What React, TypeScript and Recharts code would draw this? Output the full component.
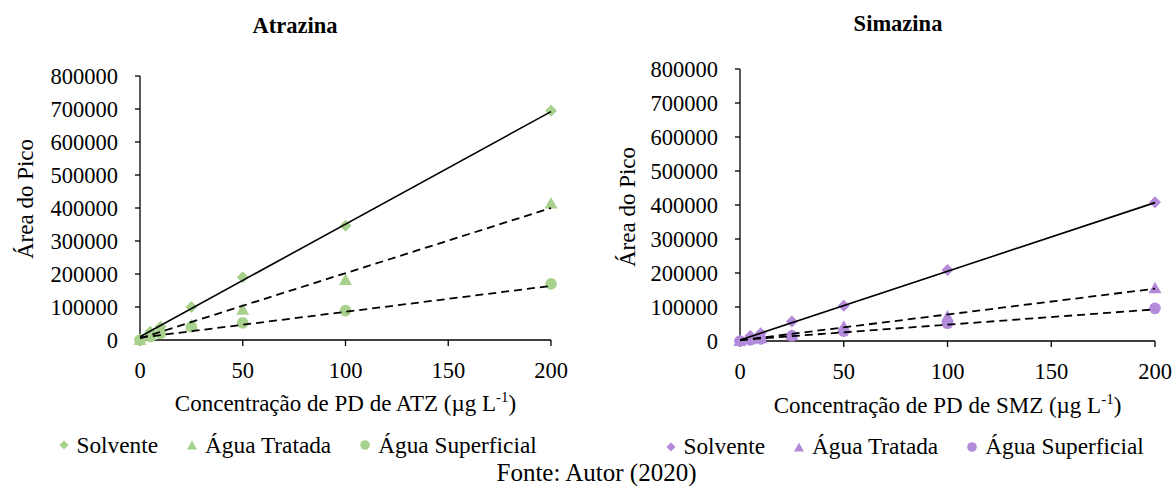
import { ScatterChart, Scatter, XAxis, YAxis } from 'recharts'

const FONT = '"Liberation Serif", "Times New Roman", serif'
const GREEN = '#A9D18E'
const PURPLE = '#B48ADA'

// concentrações (µg L-1)
const concentracoes = [0, 5, 10, 25, 50, 100, 200]
const xTicks = [0, 50, 100, 150, 200]
const yTicks = [0, 100000, 200000, 300000, 400000, 500000, 600000, 700000, 800000]
const trendX = [0, 200]
const seriesNames = ['Solvente', 'Água Tratada', 'Água Superficial']

// Atrazina
const atzSolvente = [0, 25000, 40000, 100000, 190000, 346000, 695000]
const atzTratada = [0, 15000, 30000, 45000, 92000, 182000, 414000]
const atzSuperficial = [0, 10000, 20000, 40000, 52000, 89000, 170000]
const atzTrendSolvente = [10000, 692000]
const atzTrendTratada = [5000, 400000]
const atzTrendSuperficial = [7000, 164000]

// Simazina
const smzSolvente = [0, 15000, 23000, 57000, 104000, 209000, 408000]
const smzTratada = [0, 5000, 8000, 17000, 42000, 72000, 155000]
const smzSuperficial = [0, 3000, 6000, 15000, 29000, 52000, 96000]
const smzTrendSolvente = [3000, 407000]
const smzTrendTratada = [2000, 154000]
const smzTrendSuperficial = [3000, 93000]

const toPoints = (ys: number[], xs: number[] = concentracoes) => xs.map((x, i) => ({ x, y: ys[i] }))

const Diamond = ({ cx, cy, fill }: any) => (
  <polygon points={`${cx},${cy - 6} ${cx + 6},${cy} ${cx},${cy + 6} ${cx - 6},${cy}`} fill={fill} />
)
const Triangle = ({ cx, cy, fill }: any) => (
  <polygon points={`${cx},${cy - 6.5} ${cx + 6.5},${cy + 5} ${cx - 6.5},${cy + 5}`} fill={fill} />
)
const Dot = ({ cx, cy, fill }: any) => <circle cx={cx} cy={cy} r={5.8} fill={fill} />
const Nothing = () => <g />

const shapes = [Diamond, Triangle, Dot]

const axisText = { fill: '#000', fontSize: 22.5, fontFamily: FONT }

const xTitle = (sigla: string, dy: number) => ({ viewBox }: any) => (
  <text x={viewBox.x + viewBox.width / 2} y={viewBox.y + dy} textAnchor="middle" fontSize={23} fontFamily={FONT} fill="#000">
    Concentração de PD de {sigla} (µg L<tspan dy={-9} fontSize={15}>-1</tspan><tspan dy={9}>)</tspan>
  </text>
)

const yTitle = (cxOff: number, cyOff: number) => ({ viewBox }: any) => {
  const cx = viewBox.x + cxOff
  const cy = viewBox.y + viewBox.height / 2 + cyOff
  return (
    <text x={cx} y={cy} dy="0.33em" transform={`rotate(-90 ${cx} ${cy})`} textAnchor="middle" fontSize={23} fontFamily={FONT} fill="#000">
      Área do Pico
    </text>
  )
}

function Painel({ width, margin, color, points, trends, sigla, xTitleDy, yTitleX, yTitleDy }: {
  width: number; margin: { top: number; right: number; bottom: number; left: number }; color: string
  points: number[][]; trends: number[][]; sigla: string; xTitleDy: number; yTitleX: number; yTitleDy: number
}) {
  return (
    <ScatterChart width={width} height={430} margin={margin}>
      <XAxis type="number" dataKey="x" domain={[0, 200]} ticks={xTicks} interval={0}
        axisLine={{ stroke: '#000', strokeWidth: 1.3 }} tickLine={{ stroke: '#000', strokeWidth: 1.3 }}
        tickSize={6} tickMargin={16} tick={axisText} height={80} label={{ content: xTitle(sigla, xTitleDy) }} />
      <YAxis type="number" dataKey="y" domain={[0, 800000]} ticks={yTicks} interval={0}
        axisLine={{ stroke: '#000', strokeWidth: 1.3 }} tickLine={{ stroke: '#000', strokeWidth: 1.3 }}
        tickSize={5} tickMargin={17} tick={axisText} width={140} label={{ content: yTitle(yTitleX, yTitleDy) }} />
      {points.map((ys, i) => (
        <Scatter key={seriesNames[i]} name={seriesNames[i]} data={toPoints(ys)} fill={color}
          shape={shapes[i]} isAnimationActive={false} />
      ))}
      {trends.map((ys, i) => (
        <Scatter key={'t' + i} data={toPoints(ys, trendX)} legendType="none" shape={Nothing}
          line={{ stroke: '#000', strokeWidth: i === 0 ? 1.6 : 1.8, strokeDasharray: i === 0 ? undefined : '8 5' }}
          isAnimationActive={false} />
      ))}
    </ScatterChart>
  )
}

const legendIcons = [
  (c: string) => <svg width={10} height={10}><polygon points="5,0.5 9.5,5 5,9.5 0.5,5" fill={c} /></svg>,
  (c: string) => <svg width={10} height={10}><polygon points="5,0.5 10,9.5 0,9.5" fill={c} /></svg>,
  (c: string) => <svg width={10} height={10}><circle cx={5} cy={5} r={4.8} fill={c} /></svg>,
]

function Legenda({ color, left, top }: { color: string; left: number; top: number }) {
  return (
    <div style={{ position: 'absolute', left, top, display: 'flex', gap: 29, fontFamily: FONT, fontSize: 23.3, lineHeight: '23px', whiteSpace: 'nowrap' }}>
      {seriesNames.map((n, i) => (
        <div key={n} style={{ display: 'flex', alignItems: 'center', gap: 8 }}>
          {legendIcons[i](color)}
          <span>{n}</span>
        </div>
      ))}
    </div>
  )
}

const titleStyle = { position: 'absolute' as const, transform: 'translateX(-50%)', fontFamily: FONT, fontWeight: 700, fontSize: 22.5, lineHeight: '22.5px', whiteSpace: 'nowrap' as const }

export default function App() {
  return (
    <div style={{ position: 'absolute', left: 0, top: 0, width: 1176, height: 486, background: '#fff', overflow: 'hidden' }}>
      <div style={{ ...titleStyle, left: 295, top: 14.6 }}>Atrazina</div>
      <div style={{ ...titleStyle, left: 898, top: 12.6 }}>Simazina</div>
      <div style={{ position: 'absolute', left: 0, top: 0 }}>
        <Painel width={600} margin={{ top: 76, right: 49, bottom: 10, left: 0 }} color={GREEN}
          points={[atzSolvente, atzTratada, atzSuperficial]}
          trends={[atzTrendSolvente, atzTrendTratada, atzTrendSuperficial]}
          sigla="ATZ" xTitleDy={71} yTitleX={25.5} yTitleDy={-9} />
      </div>
      <div style={{ position: 'absolute', left: 600, top: 0 }}>
        <Painel width={576} margin={{ top: 69, right: 21, bottom: 9, left: 0 }} color={PURPLE}
          points={[smzSolvente, smzTratada, smzSuperficial]}
          trends={[smzTrendSolvente, smzTrendTratada, smzTrendSuperficial]}
          sigla="SMZ" xTitleDy={72} yTitleX={27} yTitleDy={2} />
      </div>
      <Legenda color={GREEN} left={58.5} top={433.5} />
      <Legenda color={PURPLE} left={665.5} top={435} />
      <div style={{ position: 'absolute', left: 596.5, top: 461, transform: 'translateX(-50%)', fontFamily: FONT, fontSize: 25, lineHeight: '24px', whiteSpace: 'nowrap' }}>
        Fonte: Autor (2020)
      </div>
    </div>
  )
}
